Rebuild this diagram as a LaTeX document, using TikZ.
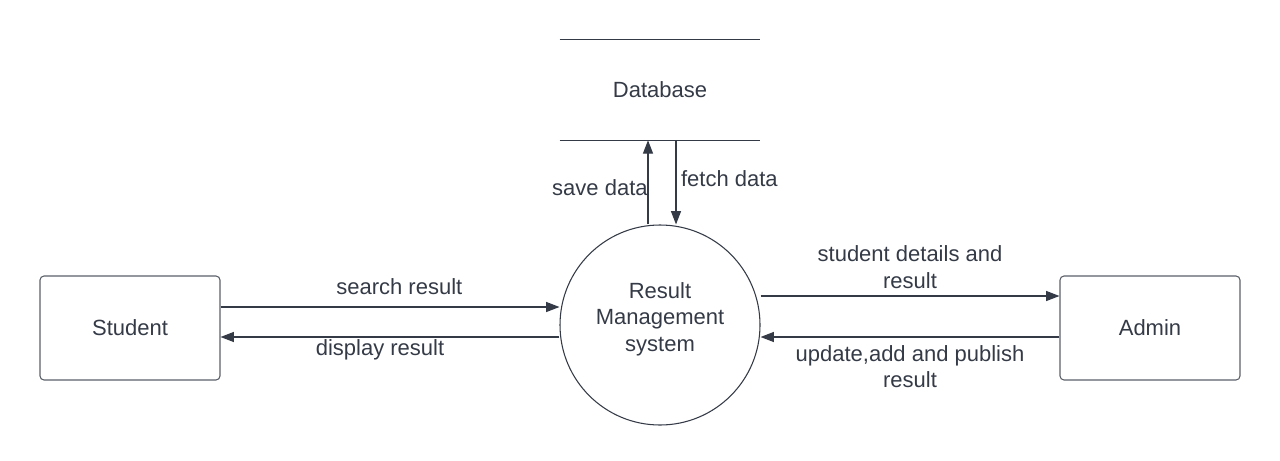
\documentclass[tikz,border=0pt]{standalone}
\usepackage{fontspec}
\setmainfont{Liberation Sans}
\usetikzlibrary{arrows.meta,positioning}
\definecolor{dfdark}{HTML}{343A46}
\definecolor{dfedge}{HTML}{5A5F68}

\begin{document}
\begin{tikzpicture}[
    x=0.75pt, y=-0.75pt,
    entity/.style={rectangle, draw=dfedge, line width=0.8pt, rounded corners=3pt,
      minimum width=135pt, minimum height=78pt, inner sep=0pt},
    process/.style={circle, draw=dfdark, line width=0.8pt, minimum size=150pt,
      inner sep=0pt},
    store/.style={rectangle, minimum width=150pt, minimum height=75pt, inner sep=0pt},
    flow/.style={draw=dfdark, line width=0.9pt, -{Triangle[length=10pt,width=7.5pt]}},
    lbl/.style={font=\fontsize{16.5}{20}\selectfont, text=dfdark, align=center},
  ]
  \useasboundingbox (0,0) rectangle (1280,460);

  % ---- external entities and the process
  \node[entity, lbl] (student) at (130,328) {Student};
  \node[entity, lbl] (admin) at (1150,328) {Admin};
  \node[process, label={[lbl, yshift=4.5pt]center:Result\\Management\\system}]
    (sys) at (660,325) {};

  % ---- data store, open at both sides
  \node[store, lbl] (db) at (660,90) {Database};
  \draw[dfdark, line width=0.8pt] (db.north west) -- (db.north east);
  \draw[dfdark, line width=0.8pt] (db.south west) -- (db.south east);

  % ---- anchor points for the flows
  \coordinate (s1) at ([yshift=15.75pt]student.east);
  \coordinate (s2) at ([yshift=-6.75pt]student.east);
  \coordinate (a1) at ([yshift=24pt]admin.west);
  \coordinate (a2) at ([yshift=-6.75pt]admin.west);
  \coordinate (d1) at ([xshift=-9pt]db.south);
  \coordinate (d2) at ([xshift=12pt]db.south);

  % ---- flows between student and system
  \draw[flow] (s1) -- (s1 -| sys.west)
    node[lbl, midway, above=5.5pt, xshift=7pt] {search result};
  \draw[flow] (s2 -| sys.west) -- (s2)
    node[lbl, midway, below=-2pt, xshift=-7.5pt] {display result};

  % ---- flows between system and admin
  \draw[flow] (a1 -| sys.east) -- (a1)
    node[lbl, midway, above=2pt] {student details and\\result};
  \draw[flow] (a2) -- (a2 -| sys.east)
    node[lbl, midway, below=2.5pt] {update,add and publish\\result};

  % ---- flows to and from the store
  \draw[flow] (d1 |- sys.north) -- (d1)
    node[lbl, midway, left=-3.5pt, yshift=-3.75pt] {save data};
  \draw[flow] (d2) -- (d2 |- sys.north)
    node[lbl, pos=0.45, right=0pt] {fetch data};

\end{tikzpicture}
\end{document}
